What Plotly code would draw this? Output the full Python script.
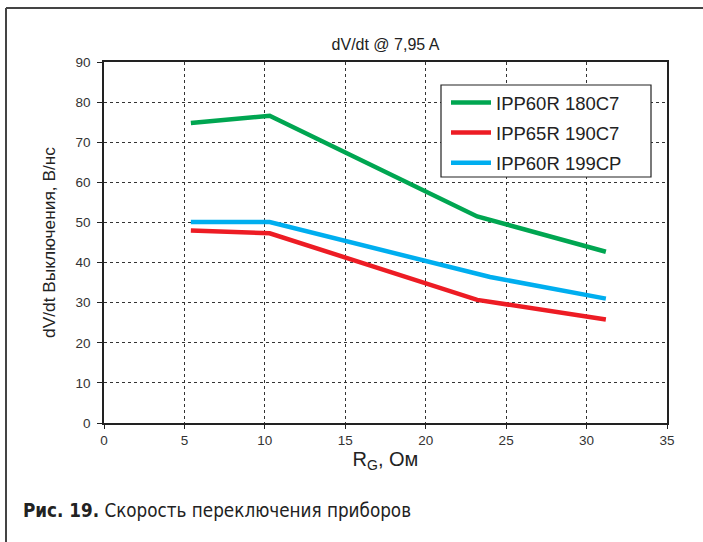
import plotly.graph_objects as go

rg = [5.4, 10.3, 23.2, 31.2]
rg_blue = [5.4, 10.3, 24.0, 31.2]
green_vals = [74.8, 76.6, 51.5, 42.7]
red_vals = [48.0, 47.3, 30.7, 25.8]
blue_vals = [50.1, 50.1, 36.4, 31.0]
names = ["IPP60R 180C7", "IPP65R 190C7", "IPP60R 199CP"]
colors = ["#00A651", "#ED1C24", "#00AEEF"]

fig = go.Figure()
for xs, ys, nm, col in [(rg, green_vals, names[0], colors[0]),
                        (rg, red_vals, names[1], colors[1]),
                        (rg_blue, blue_vals, names[2], colors[2])]:
    fig.add_trace(go.Scatter(x=xs, y=ys, mode="lines", name=nm, legendgroup=nm,
                             line=dict(color=col, width=4.5)))

W, H = 703, 542
L, R, T, B = 104, 667, 62, 423
pw, ph = R - L, B - T

def px(x):
    return (x - L) / pw

def py(y):
    return (B - y) / ph

fig.update_layout(
    width=W, height=H,
    margin=dict(l=L, r=W - R, t=T, b=H - B, pad=0, autoexpand=False),
    paper_bgcolor="white", plot_bgcolor="white",
    font=dict(family="Liberation Sans, Arial, sans-serif", color="#222"),
    title=dict(text="dV/dt @ 7,95 A", xref="paper", x=0.5, xanchor="center",
               y=1 - 44 / H, yanchor="middle", font=dict(size=16, color="#222")),
    showlegend=True,
    legend=dict(x=px(446), y=py(84), xanchor="left", yanchor="top",
                bgcolor="rgba(0,0,0,0)", borderwidth=0,
                font=dict(size=18.5, color="#222"), itemwidth=40,
                tracegroupgap=3),
    xaxis=dict(range=[0, 35], dtick=5, tick0=0, showgrid=True,
               gridcolor="#333", griddash="dot", gridwidth=1,
               showline=True, linecolor="#222", linewidth=1.5, mirror=True,
               ticks="outside", ticklen=4, tickcolor="#222",
               tickfont=dict(size=13.5, color="#333"), zeroline=False,
               automargin=False,
               title=dict(text="R<sub>G</sub>, Ом", font=dict(size=20, color="#222"), standoff=4)),
    yaxis=dict(range=[0, 90], dtick=10, tick0=0, showgrid=True,
               gridcolor="#333", griddash="dot", gridwidth=1,
               showline=True, linecolor="#222", linewidth=1.5, mirror=True,
               ticks="outside", ticklen=5, tickcolor="#222", ticklabelstandoff=4,
               tickfont=dict(size=13.5, color="#333"), zeroline=False,
               automargin=False,
               title=dict(text="dV/dt Выключения, В/нс", font=dict(size=17.3, color="#222"), standoff=15)),
)

# legend box
fig.add_shape(type="rect", xref="paper", yref="paper", layer="above",
              x0=px(441), y0=py(85), x1=px(651), y1=py(177),
              fillcolor="white", line=dict(color="#222", width=1.2))

# outer frame (top and left edges)
fig.add_shape(type="line", xref="paper", yref="paper",
              x0=px(6), y0=py(8), x1=px(703), y1=py(8),
              line=dict(color="#444", width=2))
fig.add_shape(type="line", xref="paper", yref="paper",
              x0=px(6), y0=py(8), x1=px(6), y1=py(542),
              line=dict(color="#444", width=2))

fig.add_annotation(xref="paper", yref="paper", x=px(21), y=py(511),
                   xanchor="left", yanchor="middle", showarrow=False,
                   text="<b>Рис. 19.</b> Скорость переключения приборов",
                   font=dict(family="DejaVu Sans Condensed, Liberation Sans, sans-serif", size=18.7, color="#222"))

fig.write_html("out.html", config={"displayModeBar": False},
               post_script="document.body.style.margin='0';")
